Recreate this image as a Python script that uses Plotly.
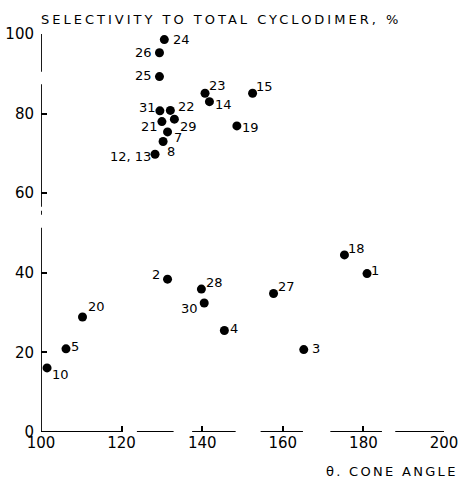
import plotly.graph_objects as go

# Data
labels = ["1", "2", "3", "4", "5", "7", "8", "10", "12, 13", "14", "15", "18", "19",
          "20", "21", "22", "23", "24", "25", "26", "27", "28", "29", "30", "31"]
cone_angle = [180.9, 131.4, 165.2, 145.5, 106.2, 131.4, 130.3, 101.5, 128.3, 141.8, 152.5, 175.3, 148.6,
              110.3, 130.0, 132.1, 140.7, 130.6, 129.4, 129.4, 157.7, 139.8, 133.1, 140.5, 129.5]
selectivity = [39.8, 38.4, 20.7, 25.5, 20.9, 75.4, 73.0, 16.1, 69.8, 83.0, 85.1, 44.5, 76.9,
               28.9, 78.0, 80.8, 85.1, 98.6, 89.3, 95.3, 34.8, 35.9, 78.6, 32.4, 80.7]
x_ticks = [100, 120, 140, 160, 180, 200]
y_ticks = [0, 20, 40, 60, 80, 100]

# label offsets in pixels (dx right, dy down) -- styling only
label_offsets = {
    "1": (8, -3), "2": (-12, -5), "3": (12, -1), "4": (10, -2), "5": (9, -2),
    "7": (10, 6), "8": (8, 10), "10": (13, 7), "12, 13": (-25, 2), "14": (14, 3),
    "15": (12, -7), "18": (12, -6), "19": (14, 2), "20": (14, -10), "21": (-12, 5),
    "22": (16, -4), "23": (12, -8), "24": (17, 0), "25": (-16, -1), "26": (-16, 0),
    "27": (13, -7), "28": (13, -7), "29": (14, 7), "30": (-15, 5), "31": (-12, -3),
}

FONT = "DejaVu Sans"


def spaced(txt, px):
    return f'<span style="letter-spacing:{px}px">{txt}</span>'


fig = go.Figure()
fig.add_trace(go.Scatter(
    x=cone_angle, y=selectivity, mode="markers",
    marker=dict(color="black", size=9, line=dict(width=0)),
    cliponaxis=False, showlegend=False, hoverinfo="skip",
))

for lab, xv, yv in zip(labels, cone_angle, selectivity):
    dx, dy = label_offsets[lab]
    fig.add_annotation(x=xv, y=yv, text=lab, showarrow=False,
                       xshift=dx, yshift=-dy,
                       font=dict(family=FONT, size=13, color="black"))

# broken axis lines (as in the reproduced print)
x_segments = [(100, 120.2), (123.8, 132.9), (137.5, 148.3), (154.5, 165), (171.8, 184.6), (187.9, 200.2)]
y_segments = [(0, 51.3), (54.6, 55.6), (56.6, 87.4), (90.5, 100)]
for a, b in x_segments:
    fig.add_shape(type="line", xref="x", yref="y", x0=a, x1=b, y0=0, y1=0,
                  line=dict(color="black", width=1.8))
for a, b in y_segments:
    fig.add_shape(type="line", xref="x", yref="y", x0=100, x1=100, y0=a, y1=b,
                  line=dict(color="black", width=1.8))

fig.add_annotation(xref="paper", yref="paper", x=0, y=1, xanchor="left", yanchor="middle",
                   xshift=-2, yshift=15, text=spaced("SELECTIVITY TO TOTAL CYCLODIMER, %", 3),
                   showarrow=False, font=dict(family=FONT, size=13, color="black"))
fig.add_annotation(xref="paper", yref="paper", x=1, y=0, xanchor="right", yanchor="middle",
                   xshift=16, yshift=-39, text=spaced("θ. CONE ANGLE", 2.3),
                   showarrow=False, font=dict(family=FONT, size=13, color="black"))

fig.update_xaxes(range=[100, 200], tickvals=x_ticks,
                 ticks="inside", ticklen=6, tickwidth=1.8, tickcolor="black",
                 showline=False, showgrid=False, zeroline=False, automargin=False,
                 ticklabelstandoff=0,
                 tickfont=dict(family=FONT, size=15, color="black"))
fig.update_yaxes(range=[0, 100], tickvals=y_ticks,
                 ticks="inside", ticklen=6, tickwidth=1.8, tickcolor="black",
                 showline=False, showgrid=False, zeroline=False, automargin=False,
                 ticklabelstandoff=6,
                 tickfont=dict(family=FONT, size=15, color="black"))
fig.update_layout(width=464, height=478, margin=dict(l=41, r=20, t=34, b=46),
                  plot_bgcolor="white", paper_bgcolor="white")
fig.write_html("out.html", config={"displayModeBar": False},
               post_script="document.body.style.margin='0px';")
